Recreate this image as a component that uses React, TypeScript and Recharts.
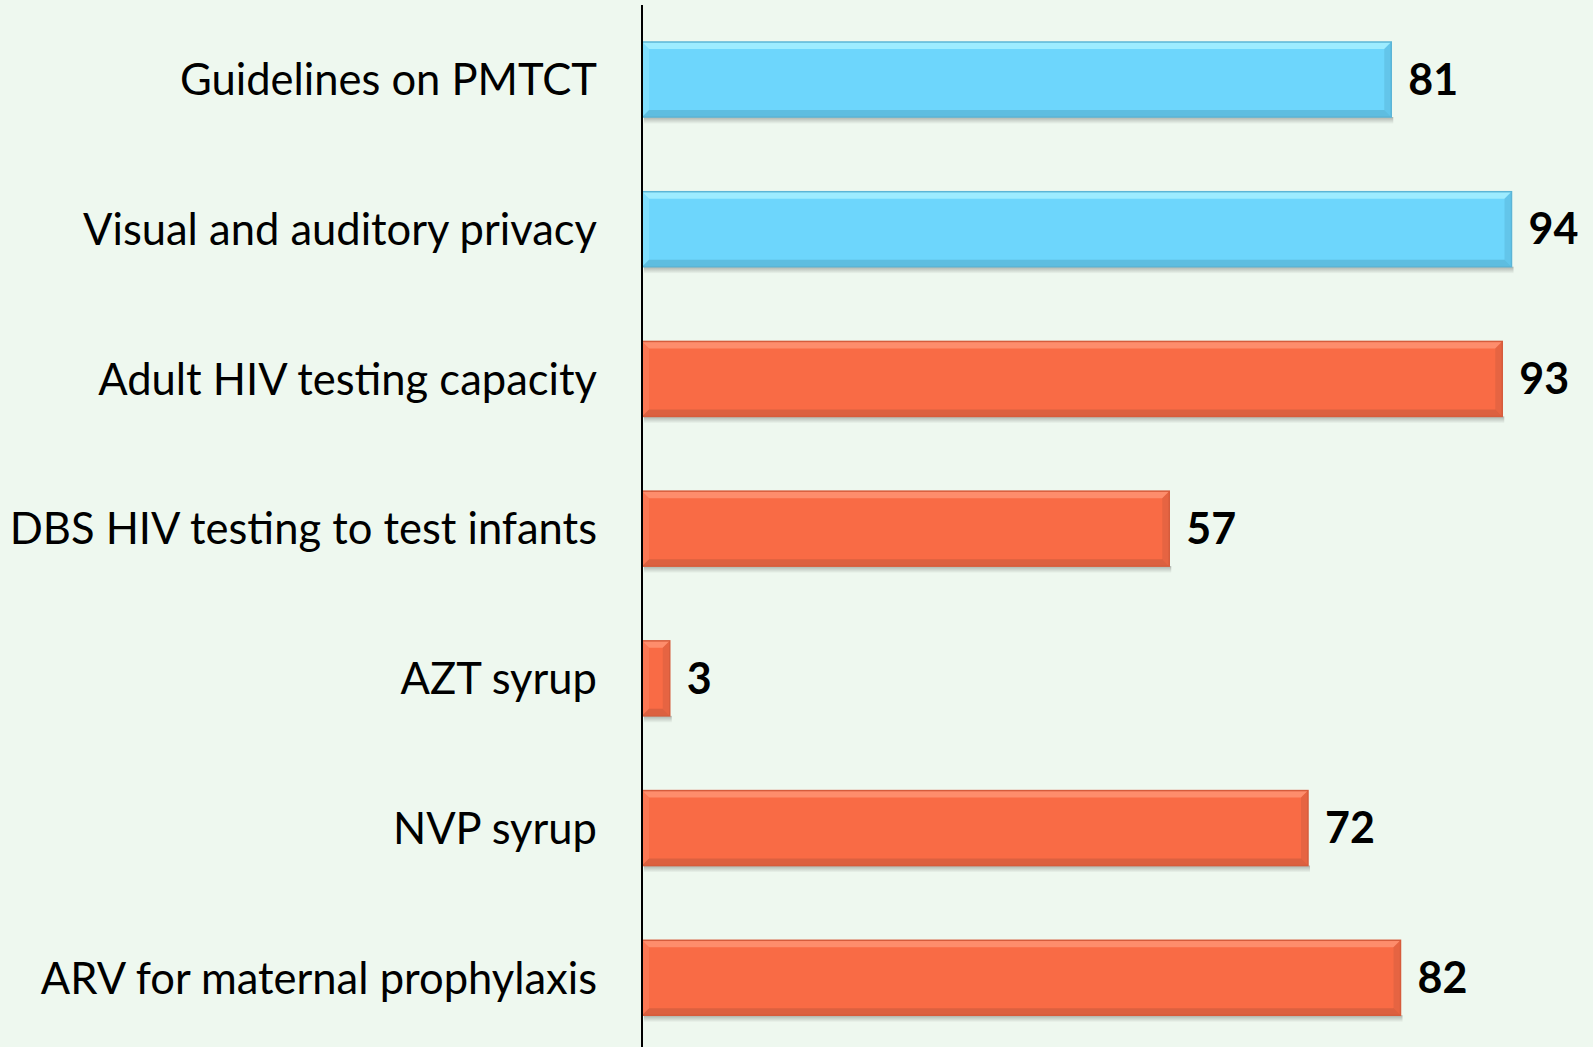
import React from 'react'
import { BarChart, Bar, XAxis, YAxis, Cell, LabelList } from 'recharts'

const categories = [
  'Guidelines on PMTCT',
  'Visual and auditory privacy',
  'Adult HIV testing capacity',
  'DBS HIV testing to test infants',
  'AZT syrup',
  'NVP syrup',
  'ARV for maternal prophylaxis',
]
const values = [81, 94, 93, 57, 3, 72, 82]
const blueCount = 2

const BLUE = { main: '#6DD6FC', light: '#A9F1FF', dark: '#4C9FBF', edge: '#5BB5D6' }
const ORANGE = { main: '#F96B45', light: '#FF9675', dark: '#B8553A', edge: '#D65C3C' }

const data = categories.map((name, i) => ({ name, value: values[i] }))

const FONT = 'Lato, "Open Sans", sans-serif'

const BevelBar = (props: any) => {
  const { x, y, width, height, index } = props
  if (width <= 0) return null
  const c = index < blueCount ? BLUE : ORANGE
  const b = Math.min(7, width / 2)
  return (
    <g>
      <rect x={x + 2} y={y + height} width={width} height={7} fill="url(#shadowGrad)" />
      <rect x={x} y={y} width={width} height={height} fill={c.main} />
      <polygon points={`${x},${y} ${x + width},${y} ${x + width - b},${y + b} ${x + b},${y + b}`} fill={c.light} opacity={0.8} />
      <polygon points={`${x},${y + height} ${x + width},${y + height} ${x + width - b},${y + height - b} ${x + b},${y + height - b}`} fill={c.dark} opacity={0.45} />
      <polygon points={`${x + width},${y} ${x + width},${y + height} ${x + width - b},${y + height - b} ${x + width - b},${y + b}`} fill={c.dark} opacity={0.3} />
      <polygon points={`${x},${y} ${x},${y + height} ${x + b},${y + height - b} ${x + b},${y + b}`} fill={c.light} opacity={0.3} />
      <rect x={x} y={y} width={width} height={height} fill="none" stroke={c.edge} strokeWidth={1.5} />
    </g>
  )
}

export default function App() {
  return (
    <div style={{ position: 'fixed', left: 0, top: 0, width: 1593, height: 1047, background: '#EEF8EF', overflow: 'hidden' }}>
      <BarChart
        width={1593}
        height={1060}
        data={data}
        layout="vertical"
        margin={{ top: 5, right: 26, left: 0, bottom: 7 }}
        barSize={75}
      >
        <defs>
          <linearGradient id="shadowGrad" x1="0" y1="0" x2="0" y2="1">
            <stop offset="0%" stopColor="#000" stopOpacity={0.28} />
            <stop offset="100%" stopColor="#000" stopOpacity={0} />
          </linearGradient>
        </defs>
        <XAxis type="number" domain={[0, 100]} hide />
        <YAxis
          type="category"
          dataKey="name"
          width={642}
          tickLine={false}
          tickMargin={39}
          axisLine={{ stroke: '#000', strokeWidth: 2 }}
          tick={{ fill: '#000', fontSize: 43.5, fontFamily: FONT }}
          interval={0}
        />
        <Bar dataKey="value" shape={<BevelBar />} isAnimationActive={false}>
          {data.map((d, i) => (
            <Cell key={d.name} fill={i < blueCount ? BLUE.main : ORANGE.main} />
          ))}
          <LabelList
            dataKey="value"
            position="right"
            offset={17}
            style={{ fill: '#000', fontSize: 43, fontWeight: 700, fontFamily: FONT }}
          />
        </Bar>
      </BarChart>
    </div>
  )
}
